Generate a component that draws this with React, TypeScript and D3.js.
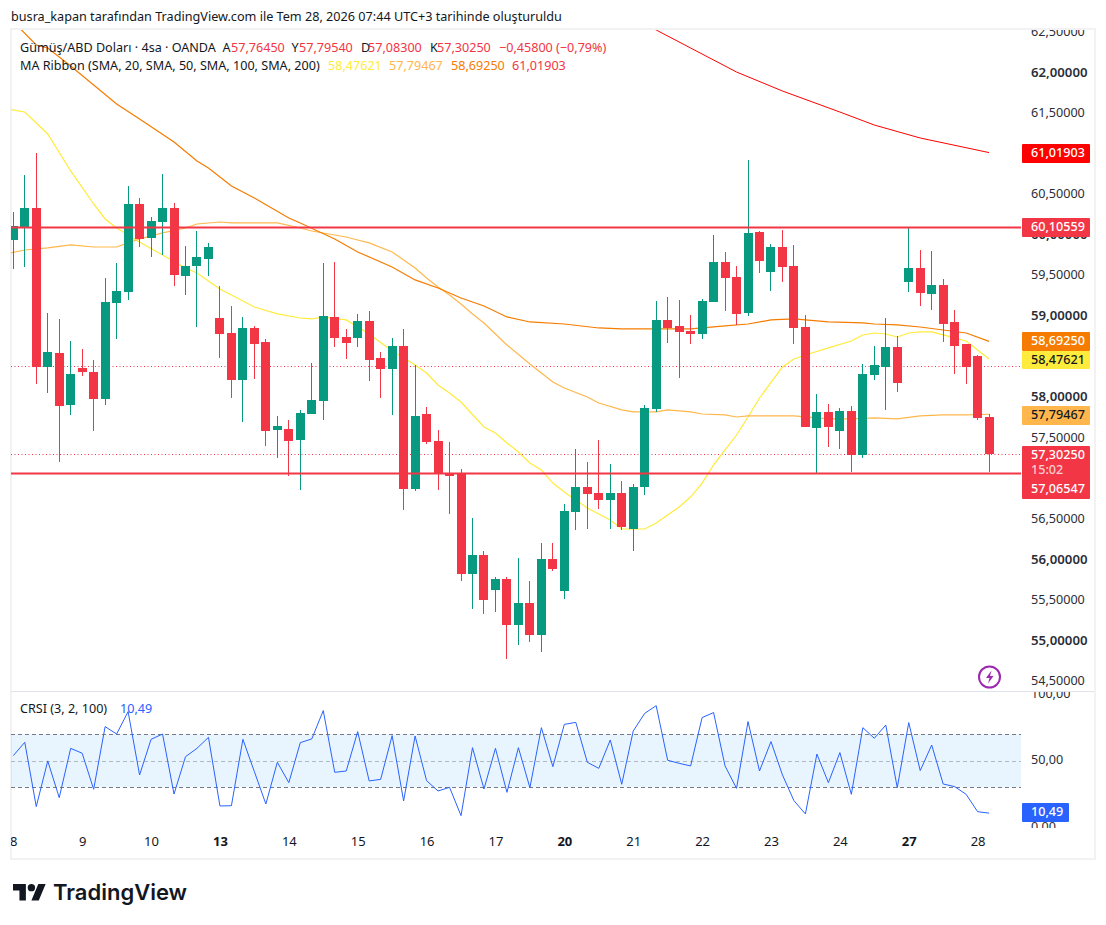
import React, { useEffect, useRef } from "react";
import * as d3 from "d3";

const opens = [59.942, 60.09, 60.337, 58.377, 58.55, 57.909, 58.365, 58.316, 57.983, 59.166, 59.302, 60.386, 59.967, 60.164, 60.337, 59.499, 59.622, 59.708, 58.981, 58.796, 58.217, 58.858, 58.685, 57.601, 57.613, 57.478, 57.798, 57.958, 58.994, 58.747, 58.735, 58.944, 58.488, 58.353, 58.636, 56.874, 57.798, 57.466, 57.059, 57.059, 55.827, 56.061, 55.629, 55.765, 55.198, 55.469, 55.075, 56.011, 55.617, 56.591, 56.899, 56.825, 56.738, 56.825, 56.381, 56.899, 57.86, 58.957, 58.883, 58.821, 58.784, 59.178, 59.671, 59.487, 59.043, 60.041, 59.548, 59.856, 59.622, 58.87, 57.626, 57.823, 57.589, 57.835, 57.293, 58.279, 58.377, 58.624, 59.425, 59.597, 59.277, 59.388, 58.932, 58.661, 58.513, 57.7645];
const closes = [60.115, 60.337, 58.377, 58.562, 57.897, 58.291, 58.316, 57.983, 59.178, 59.314, 60.386, 59.955, 60.177, 60.337, 59.511, 59.622, 59.733, 59.856, 58.784, 58.217, 58.858, 58.661, 57.589, 57.65, 57.466, 57.811, 57.971, 59.006, 58.735, 58.673, 58.944, 58.464, 58.353, 58.636, 56.874, 57.774, 57.453, 57.059, 57.034, 55.827, 56.061, 55.506, 55.765, 55.198, 55.469, 55.075, 56.011, 55.888, 56.603, 56.899, 56.812, 56.738, 56.825, 56.406, 56.899, 57.872, 58.957, 58.858, 58.809, 58.784, 59.191, 59.671, 59.474, 59.031, 60.029, 59.684, 59.856, 59.61, 58.858, 57.638, 57.823, 57.638, 57.835, 57.293, 58.291, 58.402, 58.624, 58.18, 59.597, 59.289, 59.388, 58.907, 58.636, 58.377, 57.749, 57.3025];
const highs = [60.288, 60.743, 61.015, 59.043, 58.969, 58.698, 58.599, 58.464, 59.474, 59.659, 60.608, 60.46, 60.226, 60.756, 60.398, 59.869, 60.053, 59.906, 59.376, 59.129, 58.994, 58.883, 58.722, 57.774, 57.724, 57.848, 58.427, 59.659, 59.671, 58.846, 59.031, 59.067, 58.562, 58.735, 58.846, 58.402, 57.884, 57.601, 57.453, 57.121, 56.517, 56.11, 55.79, 55.79, 56.024, 55.74, 56.208, 56.208, 56.689, 57.367, 57.207, 57.478, 57.182, 56.973, 56.936, 57.909, 59.191, 59.24, 59.203, 59.018, 59.215, 60.004, 59.795, 59.622, 60.928, 60.053, 59.893, 60.066, 59.881, 59.018, 58.045, 57.921, 57.872, 57.897, 58.414, 58.636, 58.981, 58.76, 60.09, 59.819, 59.807, 59.462, 59.08, 58.661, 58.525, 57.7954];
const lows = [59.585, 59.61, 58.168, 58.057, 57.207, 57.786, 58.267, 57.589, 57.909, 58.722, 59.203, 59.856, 59.733, 59.758, 59.376, 59.265, 58.87, 59.499, 58.488, 57.995, 57.7, 58.23, 57.404, 57.256, 57.034, 56.862, 57.798, 57.724, 58.624, 58.476, 58.624, 58.205, 57.995, 57.786, 56.615, 56.849, 57.429, 56.862, 56.566, 55.74, 55.395, 55.334, 55.358, 54.779, 54.952, 54.989, 54.865, 55.864, 55.518, 56.369, 56.381, 56.628, 56.381, 56.369, 56.11, 56.8, 57.823, 58.673, 58.242, 58.661, 58.722, 59.178, 59.067, 58.895, 59.006, 59.536, 59.314, 59.425, 58.661, 57.638, 57.059, 57.392, 57.367, 57.084, 57.256, 58.217, 57.848, 58.069, 59.302, 59.129, 59.08, 58.685, 58.291, 58.168, 57.724, 57.083];

const ma20Bars = [-1, 1, 3, 5, 7, 8, 9, 11, 13, 15, 16, 18, 19, 21, 23, 25, 26, 27, 29, 30, 31, 33, 35, 36, 37, 38, 39, 41, 42, 43, 44, 45, 46, 47, 48, 49, 50, 51, 52, 53, 55, 56, 58, 59, 60, 61, 62, 63, 64, 65, 67, 68, 69, 71, 73, 74, 75, 76, 77, 78, 79, 80, 82, 83, 85];
const ma20Values = [61.569, 61.52, 61.249, 60.793, 60.386, 60.201, 60.09, 59.918, 59.758, 59.597, 59.536, 59.339, 59.265, 59.117, 59.031, 58.981, 58.969, 58.994, 58.957, 58.87, 58.784, 58.575, 58.402, 58.303, 58.156, 58.057, 57.946, 57.638, 57.564, 57.441, 57.33, 57.195, 57.108, 56.947, 56.837, 56.738, 56.64, 56.566, 56.492, 56.381, 56.381, 56.455, 56.652, 56.775, 56.947, 57.17, 57.355, 57.539, 57.761, 57.995, 58.377, 58.476, 58.525, 58.612, 58.698, 58.772, 58.796, 58.784, 58.747, 58.796, 58.809, 58.809, 58.735, 58.698, 58.47621];

const ma50Bars = [-1, 1, 3, 5, 7, 9, 10, 11, 13, 15, 16, 18, 19, 22, 23, 25, 26, 28, 29, 30, 31, 33, 35, 36, 37, 38, 39, 40, 41, 43, 45, 46, 47, 48, 50, 51, 53, 54, 56, 57, 59, 60, 62, 63, 64, 66, 68, 70, 71, 73, 75, 77, 79, 81, 83, 85];
const ma50Values = [59.758, 59.819, 59.844, 59.881, 59.856, 59.856, 59.906, 59.955, 60.029, 60.09, 60.139, 60.164, 60.152, 60.152, 60.152, 60.09, 60.053, 60.004, 59.979, 59.942, 59.906, 59.795, 59.597, 59.474, 59.363, 59.265, 59.154, 59.031, 58.92, 58.649, 58.414, 58.303, 58.193, 58.119, 58.008, 57.934, 57.848, 57.823, 57.823, 57.848, 57.823, 57.798, 57.786, 57.761, 57.774, 57.774, 57.774, 57.749, 57.737, 57.737, 57.749, 57.737, 57.774, 57.786, 57.786, 57.79467];

const ma100Bars = [-1, 2, 3, 5, 7, 9, 11, 14, 16, 17, 19, 21, 24, 25, 28, 30, 33, 35, 37, 39, 41, 43, 45, 48, 51, 53, 56, 59, 62, 64, 66, 68, 69, 71, 74, 75, 77, 79, 81, 83, 85];
const ma100Values = [62.777, 62.345, 62.308, 62.087, 61.853, 61.618, 61.434, 61.15, 60.916, 60.83, 60.608, 60.46, 60.214, 60.152, 59.955, 59.795, 59.61, 59.45, 59.351, 59.228, 59.129, 58.994, 58.932, 58.907, 58.858, 58.846, 58.846, 58.846, 58.883, 58.907, 58.957, 58.969, 58.957, 58.932, 58.92, 58.907, 58.895, 58.87, 58.833, 58.796, 58.6925];

const ma200Bars = [55, 56, 59, 63, 67, 72, 75, 79, 85];
const ma200Values = [62.604, 62.53, 62.308, 62.012, 61.778, 61.519, 61.359, 61.199, 61.01903];

const crsiValues = [53.9, 63.96, 15.4, 49.9, 22.2, 59.4, 55.7, 28.5, 75.8, 70.2, 87.1, 39.3, 66.2, 70.2, 24.9, 53.1, 59.4, 67.7, 15.9, 16.1, 66.2, 41.8, 17.4, 48.9, 33.5, 63.7, 66.5, 87.9, 41.3, 42.3, 72.0, 34.8, 36.0, 69.0, 19.7, 68.7, 35.0, 27.2, 30.0, 8.6, 59.9, 28.7, 59.4, 26.2, 59.9, 29.7, 75.0, 45.6, 77.5, 79.0, 48.9, 44.3, 65.7, 32.3, 72.5, 85.8, 91.6, 50.4, 48.1, 46.1, 82.6, 86.4, 46.1, 29.2, 79.6, 42.3, 64.5, 39.3, 19.9, 9.9, 55.1, 33.5, 56.2, 24.7, 75.0, 67.0, 77.0, 29.7, 78.8, 42.6, 61.9, 32.5, 30.5, 24.7, 11.6, 10.49];

// 61, 58.5 and 57 sit fully under the value tags
const priceTicks = [62.5, 62, 61.5, 60.5, 60, 59.5, 59, 58, 57.5, 56.5, 56, 55.5, 55, 54.5];
const crsiTicks = [100, 50, 0];
const dayBars = [0, 6, 12, 18, 24, 30, 36, 42, 48, 54, 60, 66, 72, 78, 84];
const dayLabels = ["8", "9", "10", "13", "14", "15", "16", "17", "20", "21", "22", "23", "24", "27", "28"];
const boldDays = ["13", "20", "27"];

const supportLevel = 57.06547;
const resistanceLevel = 60.10559;
const prevCloseLevel = 58.39;
const lastPrice = 57.3025;

const GREEN = "#089981";
const RED = "#F23645";
const MA20 = "#FFEB3B";
const MA50 = "#FFB74D";
const MA100 = "#F57C00";
const MA200 = "#FF0000";
const BLUE = "#2962FF";
const INK = "#131722";
const AXIS_INK = "#2A2E39";
const FONT = "'Noto Sans', sans-serif";
const TEXT_SIZE = 12.6;

const comma = (s: string) => s.replace(".", ",");
const fmt5 = (v: number) => comma(d3.format(".5f")(v));
const fmt2 = (v: number) => comma(d3.format(".2f")(v));

export default function App() {
  const svgRef = useRef(null);

  useEffect(() => {
    const svg = d3.select(svgRef.current);
    svg.selectAll("*").remove();
    svg.attr("font-family", FONT);

    const x = d3.scaleLinear().domain([0, 85]).range([13.3, 989.1]);
    const y = d3.scaleLinear().domain([62, 55]).range([73, 641.05]);
    const yc = d3.scaleLinear().domain([70, 30]).range([734.3, 787.3]);

    const defs = svg.append("defs");
    const clip = (id, cx, cy, w, h) =>
      defs.append("clipPath").attr("id", id).append("rect").attr("x", cx).attr("y", cy).attr("width", w).attr("height", h);
    clip("pricePane", 11, 30, 1010, 661);
    clip("priceAxis", 1022, 30, 72, 661);
    clip("crsiPane", 11, 692, 1010, 135);
    clip("crsiAxis", 1022, 692, 72, 136);
    clip("timeAxis", 11, 828, 1010, 30);

    // frame
    svg.append("rect").attr("x", 11).attr("y", 29).attr("width", 1084).attr("height", 830)
      .attr("fill", "#fff").attr("stroke", "#F2F2F2").attr("stroke-width", 2);
    svg.append("line").attr("x1", 11).attr("x2", 1094).attr("y1", 691.5).attr("y2", 691.5)
      .attr("stroke", "#E0E3EB");

    // title
    svg.append("text").attr("x", 11).attr("y", 21).attr("font-size", 12.65).attr("fill", INK)
      .text("busra_kapan tarafından TradingView.com ile Tem 28, 2026 07:44 UTC+3 tarihinde oluşturuldu");

    // price pane
    const pane = svg.append("g").attr("clip-path", "url(#pricePane)");

    const hLine = (level, dash, width) =>
      pane.append("line").attr("x1", 11).attr("x2", 1021)
        .attr("y1", Math.round(y(level)) + 0.5).attr("y2", Math.round(y(level)) + 0.5)
        .attr("stroke", RED).attr("stroke-width", width).attr("stroke-dasharray", dash);
    hLine(prevCloseLevel, "1 2.5", 1);
    hLine(lastPrice, "1 2.5", 1);

    const maLine = d3.line().x((d) => x(d[0])).y((d) => y(d[1]));
    const drawMa = (bars, values, color, width) =>
      pane.append("path").attr("d", maLine(bars.map((b, i) => [b, values[i]])))
        .attr("fill", "none").attr("stroke", color).attr("stroke-width", width);
    drawMa(ma20Bars, ma20Values, MA20, 1.2);
    drawMa(ma50Bars, ma50Values, MA50, 1.2);
    drawMa(ma100Bars, ma100Values, MA100, 1.2);
    drawMa(ma200Bars, ma200Values, MA200, 1);

    // candles
    const candles = pane.append("g").attr("shape-rendering", "crispEdges");
    opens.forEach((o, i) => {
      const c = closes[i];
      const color = c >= o ? GREEN : RED;
      const left = Math.round(x(i) - 4.5);
      const top = Math.round(y(Math.max(o, c)));
      const bottom = Math.round(y(Math.min(o, c)));
      candles.append("rect").attr("x", left + 4).attr("width", 1)
        .attr("y", y(highs[i])).attr("height", y(lows[i]) - y(highs[i])).attr("fill", color);
      candles.append("rect").attr("x", left).attr("width", 9)
        .attr("y", top).attr("height", Math.max(bottom - top, 1)).attr("fill", color);
    });

    hLine(resistanceLevel, null, 2);
    hLine(supportLevel, null, 2);

    // price axis
    const priceAxis = svg.append("g").attr("clip-path", "url(#priceAxis)").append("g")
      .attr("transform", "translate(1031,-1)")
      .call(d3.axisRight(y).tickValues(priceTicks).tickSize(0).tickPadding(0).tickFormat(fmt5));
    priceAxis.select(".domain").remove();
    priceAxis.selectAll("text").attr("font-family", FONT).attr("fill", AXIS_INK)
      .attr("font-size", (d) => (Number.isInteger(d) ? 13.2 : TEXT_SIZE))
      .attr("font-weight", (d) => (Number.isInteger(d) ? 600 : 400));

    // crsi pane
    const crsi = svg.append("g").attr("clip-path", "url(#crsiPane)");
    crsi.append("rect").attr("x", 11).attr("width", 1010).attr("y", yc(70)).attr("height", yc(30) - yc(70))
      .attr("fill", "#2196F3").attr("fill-opacity", 0.1);
    [[70, 1], [50, 0.5], [30, 1]].forEach(([lvl, op]) => {
      crsi.append("line").attr("x1", 11).attr("x2", 1021)
        .attr("y1", Math.round(yc(lvl)) + 0.5).attr("y2", Math.round(yc(lvl)) + 0.5)
        .attr("stroke", "#787B86").attr("stroke-opacity", op).attr("stroke-dasharray", "4 3");
    });
    crsi.append("path")
      .attr("d", d3.line().x((_, i) => x(i)).y((d) => yc(d))(crsiValues))
      .attr("fill", "none").attr("stroke", BLUE).attr("stroke-width", 1);

    const yc100 = d3.scaleLinear().domain([100, 0]).range([yc(100), yc(0)]);
    const crsiAxis = svg.append("g").attr("clip-path", "url(#crsiAxis)").append("g")
      .attr("transform", "translate(1031,-1)")
      .call(d3.axisRight(yc100).tickValues(crsiTicks).tickSize(0).tickPadding(0).tickFormat(fmt2));
    crsiAxis.select(".domain").remove();
    crsiAxis.selectAll("text").attr("font-size", TEXT_SIZE).attr("font-family", FONT).attr("fill", AXIS_INK);

    // time axis
    const timeAxis = svg.append("g").attr("clip-path", "url(#timeAxis)").append("g")
      .attr("transform", "translate(0,828)")
      .call(d3.axisBottom(x).tickValues(dayBars).tickSize(0).tickPadding(9)
        .tickFormat((d) => dayLabels[dayBars.indexOf(d)]));
    timeAxis.select(".domain").remove();
    timeAxis.selectAll("text").attr("font-size", 13).attr("font-family", FONT).attr("fill", INK)
      .attr("font-weight", (d) => (boldDays.includes(dayLabels[dayBars.indexOf(d)]) ? 700 : 400));

    // value tags on the right
    const tag = (top, h, w, bg, lines) => {
      svg.append("rect").attr("x", 1022).attr("y", top).attr("width", w).attr("height", h)
        .attr("fill", bg).attr("rx", 1);
      lines.forEach(([cy, str, color]) => {
        svg.append("text").attr("x", 1031).attr("y", cy).attr("dy", "0.35em")
          .attr("font-size", TEXT_SIZE).attr("font-weight", 500).attr("fill", color).text(str);
      });
    };
    tag(144, 19, 68, MA200, [[153, fmt5(61.01903), "#fff"]]);
    tag(218, 19, 68, RED, [[227, fmt5(resistanceLevel), "#fff"]]);
    tag(332, 19, 68, MA100, [[341, fmt5(58.6925), "#fff"]]);
    tag(351, 18, 68, MA20, [[359.5, fmt5(58.47621), INK]]);
    tag(406, 19, 68, MA50, [[415, fmt5(57.79467), INK]]);
    tag(446, 53, 68, RED, [
      [454.5, fmt5(lastPrice), "#fff"],
      [469.5, "15:02", "rgba(255,255,255,0.75)"],
      [488.5, fmt5(supportLevel), "#fff"],
    ]);
    tag(803, 19, 47, BLUE, [[812, fmt2(10.49), "#fff"]]);

    // legend
    const legend = (px, py, str, color) =>
      svg.append("text").attr("x", px).attr("y", py).attr("font-size", TEXT_SIZE).attr("fill", color).text(str);
    legend(20, 52, "Gümüş/ABD Doları · 4sa · OANDA", INK);
    [
      [222.5, "A", 231, fmt5(57.7645)],
      [291.5, "Y", 299, fmt5(57.7954)],
      [361, "D", 368, fmt5(57.083)],
      [430, "K", 437, fmt5(lastPrice)],
    ].forEach(([lx, letter, vx, val]) => {
      legend(lx, 52, letter, INK);
      legend(vx, 52, val, RED);
    });
    legend(499, 52, "−0,45800 (−0,79%)", RED);
    legend(20, 70, "MA Ribbon (SMA, 20, SMA, 50, SMA, 100, SMA, 200)", INK);
    legend(328, 70, fmt5(58.47621), MA20);
    legend(389, 70, fmt5(57.79467), MA50);
    legend(451, 70, fmt5(58.6925), MA100);
    legend(512, 70, fmt5(61.01903), RED);
    legend(20, 713, "CRSI (3, 2, 100)", INK);
    legend(120, 713, fmt2(10.49), BLUE);

    // lightning badge
    svg.append("circle").attr("cx", 989.5).attr("cy", 677).attr("r", 10.5)
      .attr("fill", "#fff").attr("stroke", "#9C27B0").attr("stroke-width", 2);
    svg.append("path").attr("d", "M991.5 670.5l-5.5 7.5h3.5l-1.5 5.5 5.5-7.5h-3.5z").attr("fill", "#9C27B0");

    // logo
    const logo = svg.append("g").attr("transform", "translate(13,880.3) scale(0.92)").attr("fill", INK);
    logo.append("path").attr("d", "M14 22H7V11H0V4h14v18zM28 22h-8l7.5-18h8L28 22z");
    logo.append("circle").attr("cx", 20).attr("cy", 8).attr("r", 4);
    svg.append("text").attr("x", 53).attr("y", 900).attr("font-family", "Inter, sans-serif")
      .attr("font-size", 22).attr("font-weight", 600).attr("fill", INK).text("TradingView");
  }, []);

  return (
    <svg
      ref={svgRef}
      width={1106}
      height={925}
      style={{ position: "absolute", left: 0, top: 0, background: "#fff" }}
    />
  );
}
